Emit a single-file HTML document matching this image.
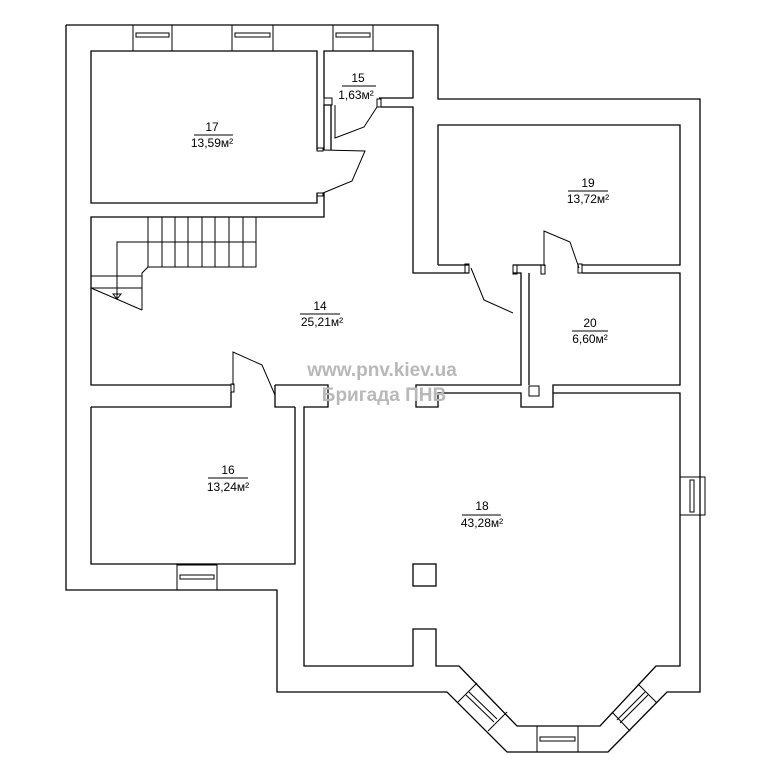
<!DOCTYPE html>
<html><head><meta charset="utf-8"><style>
html,body{margin:0;padding:0;background:#fff}
svg{display:block}
text{font-family:"Liberation Sans Narrow","Liberation Sans",sans-serif;font-size:12px;fill:#000}
.wm{font-family:"Liberation Sans","DejaVu Sans",sans-serif;font-weight:bold;fill:#b8b8b8;font-size:19px}
</style></head><body>
<svg width="767" height="767" viewBox="0 0 767 767" xmlns="http://www.w3.org/2000/svg">
<g fill="none" stroke="#000" stroke-width="1.3">
<polyline points="66,25 438,25 438,99 700,99 700,692 667,692 608,752 507,752 447,692 277,692 277,590 66,590 66,25"/>
<g stroke-width="1">
<rect x="133" y="25" width="39" height="26"/><rect x="136" y="33" width="33" height="4"/>
<rect x="232" y="25" width="41" height="26"/><rect x="235" y="33" width="35" height="4"/>
<rect x="333" y="25" width="40" height="26"/><rect x="336" y="33" width="34" height="4"/>
</g>
<polyline points="317,150 317,51 91,51 91,203 317,203 317,193"/>
<rect x="317" y="148" width="6" height="3" stroke-width="1"/>
<rect x="317" y="193" width="6" height="3" stroke-width="1"/>
<polyline points="323,193 352,181 365,151 323,150" stroke-width="1"/>
<polyline points="331,150 331,105 324,105 324,150"/>
<polyline points="324,98 324,51 413,51 413,98 379,98"/>
<rect x="324" y="98" width="8" height="7" stroke-width="1"/>
<rect x="377" y="99" width="4" height="8" stroke-width="1"/>
<polyline points="335,105 335,138 364,127 377,107" stroke-width="1"/>
<polyline points="381,107 413,107 413,273 469,273"/>
<polyline points="324,193 324,217 91,217 91,385 231,385"/>
<rect x="231" y="384" width="3" height="8" stroke-width="1"/>
<polyline points="233,385 233,352 262,365 275,395" stroke-width="1"/>
<g stroke-width="1">
<rect x="148" y="217" width="108" height="50"/>
<line x1="148" y1="242" x2="256" y2="242"/>
<line x1="162" y1="217" x2="162" y2="267"/><line x1="175" y1="217" x2="175" y2="267"/>
<line x1="188" y1="217" x2="188" y2="267"/><line x1="202" y1="217" x2="202" y2="267"/>
<line x1="215" y1="217" x2="215" y2="267"/><line x1="229" y1="217" x2="229" y2="267"/>
<line x1="243" y1="217" x2="243" y2="267"/>
<polyline points="148,242 117,242 117,298"/>
<polyline points="148,267 142,273 142,310"/>
<line x1="91" y1="276" x2="142" y2="276"/><line x1="91" y1="288" x2="142" y2="288"/>
<line x1="91" y1="288" x2="142" y2="310"/>
<polygon points="113,294 121,294 117,299"/>
</g>
<polyline points="438,265 438,125 680,125 680,265 582,265"/>
<polyline points="438,265 469,265"/>
<rect x="465" y="264" width="4" height="9" stroke-width="1"/>
<polyline points="471,268 484,300 513,313" stroke-width="1"/>
<polyline points="513,265 543,265"/>
<rect x="513" y="265" width="4" height="9" stroke-width="1"/>
<rect x="541" y="265" width="4" height="9" stroke-width="1"/>
<polyline points="544,266 544,231 570,242 579,268" stroke-width="1"/>
<rect x="578" y="264" width="4" height="9" stroke-width="1"/>
<polyline points="582,273 680,273 680,385 553,385 553,407 521,407 521,393 438,393 438,407 416,407 416,385 521,385 521,273 513,273"/>
<polyline points="529,273 529,385"/>
<rect x="529" y="386" width="10" height="10" stroke-width="1"/>
<polyline points="275,385 328,385 328,407 304,407 304,666 413,666 413,629 436,629 436,666 459,666 517,726 600,726 656,666 680,666 680,393 553,393"/>
<polyline points="91,407 231,407 231,392"/>
<polyline points="275,385 275,407 295,407"/>
<polyline points="295,407 295,564 91,564 91,407"/>
<rect x="413" y="564" width="23" height="22"/>
<g stroke-width="1">
<rect x="680" y="477" width="25" height="38"/><rect x="690" y="480" width="4" height="32"/>
<rect x="177" y="565" width="40" height="25"/><rect x="180" y="575" width="34" height="4"/>
<rect x="537" y="726" width="41" height="26"/><rect x="540" y="737" width="35" height="4"/>
<line x1="458" y1="702" x2="477" y2="683"/><line x1="488" y1="731" x2="507" y2="712"/>
<line x1="466" y1="695" x2="494" y2="722"/><line x1="469" y1="692" x2="497" y2="719"/>
<line x1="657" y1="703" x2="638" y2="684"/><line x1="630" y1="731" x2="612" y2="712"/>
<line x1="645" y1="692" x2="617" y2="720"/><line x1="648" y1="695" x2="620" y2="723"/>
</g>
</g>
<g text-anchor="middle">
<text x="358" y="82">15</text><line x1="342" y1="86" x2="376" y2="86" stroke="#000"/><text x="356" y="99">1,63м²</text>
<text x="212" y="131">17</text><line x1="194" y1="135" x2="233" y2="135" stroke="#000"/><text x="212" y="147">13,59м²</text>
<text x="588" y="187">19</text><line x1="568" y1="191" x2="608" y2="191" stroke="#000"/><text x="588" y="203">13,72м²</text>
<text x="320" y="310">14</text><line x1="300" y1="314" x2="340" y2="314" stroke="#000"/><text x="322" y="326">25,21м²</text>
<text x="590" y="327">20</text><line x1="572" y1="331" x2="608" y2="331" stroke="#000"/><text x="590" y="343">6,60м²</text>
<text x="228" y="474">16</text><line x1="208" y1="478" x2="248" y2="478" stroke="#000"/><text x="228" y="491">13,24м²</text>
<text x="482" y="510">18</text><line x1="462" y1="515" x2="501" y2="515" stroke="#000"/><text x="482" y="527">43,28м²</text>
</g>
<text class="wm" x="382" y="376" text-anchor="middle">www.pnv.kiev.ua</text>
<text class="wm" x="384" y="401" text-anchor="middle">Бригада ПНВ</text>
</svg>
</body></html>
